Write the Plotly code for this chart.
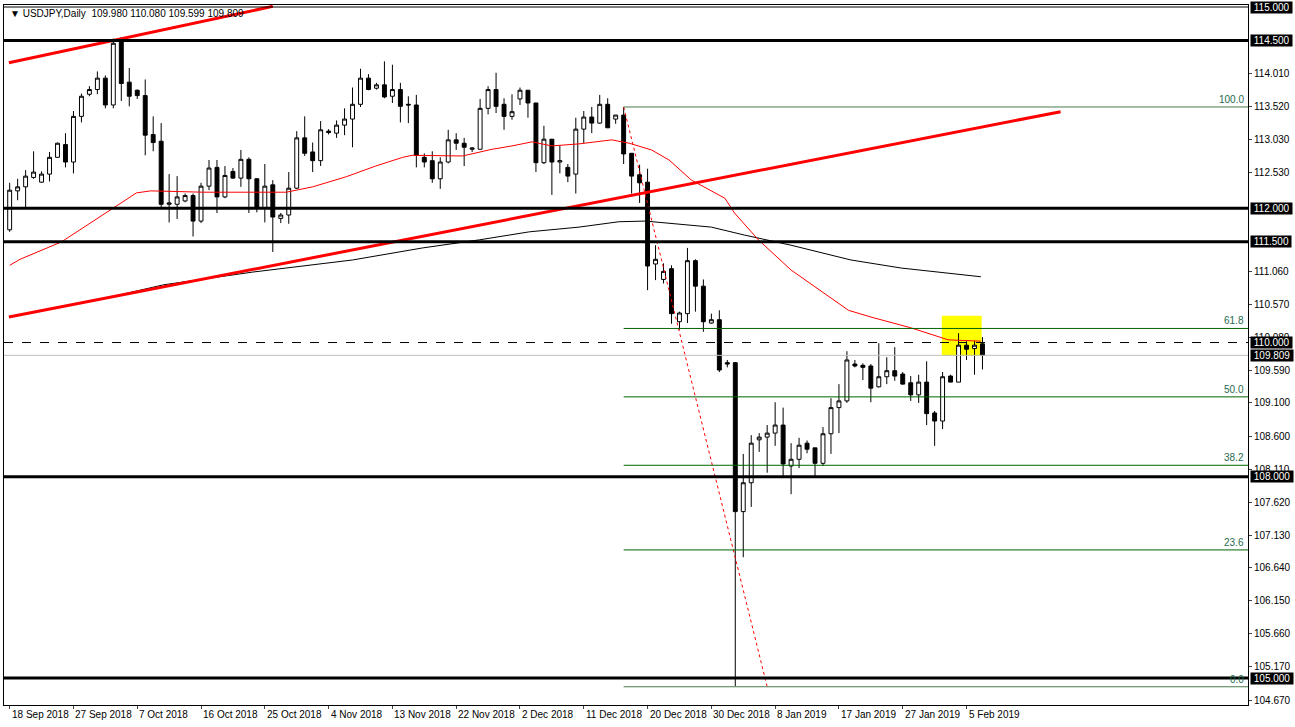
import plotly.graph_objects as go
import datetime as dt

# ---------------- data ----------------
opens = [111.68,112.26,112.32,112.46,112.39,112.51,112.76,112.95,112.69,113.37,
         113.70,113.77,113.94,113.54,114.50,113.88,113.76,113.68,113.10,113.00,
         112.06,112.06,112.11,112.19,111.81,112.33,112.61,112.17,112.55,112.45,
         112.73,112.44,112.00,112.35,111.85,111.90,112.30,113.05,112.84,112.71,
         113.15,113.12,113.24,113.33,113.55,113.94,113.79,113.84,113.67,113.77,
         113.55,113.54,112.76,112.71,112.44,112.69,113.02,112.97,112.88,112.88,
         113.49,113.77,113.55,113.37,113.63,113.76,113.57,112.68,113.03,112.69,
         112.61,112.51,113.18,113.36,113.27,113.55,113.33,113.39,112.82,112.50,
         112.39,111.17,110.94,111.10,110.31,110.43,111.22,110.84,110.29,110.34,
         109.70,109.70,107.48,107.91,108.55,108.59,108.65,108.77,108.16,108.26,
         108.50,108.43,108.20,108.64,109.03,109.13,109.68,109.66,109.65,109.34,
         109.49,109.58,109.53,109.40,109.22,109.41,108.95,108.83,109.50,109.41,
         109.96,109.91,109.980]
highs = [112.38,112.44,112.57,112.85,112.55,112.84,112.98,113.12,113.45,113.71,
         113.82,114.04,113.98,114.53,114.55,114.09,113.77,113.92,113.37,113.27,
         112.51,112.48,112.22,112.22,112.38,112.72,112.72,112.63,112.60,112.87,
         112.76,112.45,112.66,112.42,111.93,112.54,113.15,113.37,112.98,113.30,
         113.18,113.31,113.49,113.80,114.08,114.00,113.87,114.19,114.14,113.87,
         113.67,113.69,112.82,112.85,112.76,113.17,113.12,113.05,112.91,113.63,
         113.82,114.02,113.64,113.70,113.80,113.76,113.57,113.23,113.03,112.94,
         112.66,113.35,113.45,113.51,113.69,113.64,113.39,113.51,112.82,112.65,
         112.59,111.45,111.18,111.15,110.46,111.41,111.24,110.94,110.43,110.48,
         109.74,109.71,108.34,108.62,108.65,108.77,109.11,109.03,108.50,108.58,
         108.54,108.43,108.74,109.17,109.38,109.87,109.74,109.69,109.68,109.99,
         109.78,109.93,109.56,109.50,109.52,109.72,108.98,109.56,109.52,110.14,
         110.02,110.02,110.080]
lows = [111.65,112.12,112.00,112.44,112.38,112.40,112.75,112.61,112.52,113.28,
        113.67,113.70,113.49,113.49,113.60,113.52,113.63,112.79,112.85,112.02,
        111.79,111.84,112.09,111.58,111.78,112.27,111.93,112.15,112.44,112.32,
        111.93,111.94,111.79,111.35,111.78,111.77,112.29,112.78,112.54,112.63,
        113.10,113.05,113.09,112.91,113.51,113.76,113.77,113.64,113.57,113.28,
        113.27,112.61,112.61,112.38,112.29,112.67,112.87,112.63,112.84,112.88,
        113.40,113.42,113.17,113.32,113.54,113.35,112.54,112.66,112.20,112.52,
        112.39,112.22,112.97,113.12,113.26,113.20,113.26,112.66,112.22,112.08,
        110.78,110.93,110.88,110.28,110.19,110.29,110.46,110.16,110.28,109.56,
        109.63,104.88,106.80,107.55,108.37,108.06,108.46,107.98,107.74,108.13,
        108.35,108.00,108.16,108.34,108.65,109.10,109.63,109.44,109.11,109.33,
        109.38,109.43,109.37,109.13,109.10,108.77,108.46,108.71,109.41,109.41,
        109.74,109.52,109.599]
closes = [112.27,112.32,112.48,112.54,112.51,112.76,112.97,112.69,113.37,113.67,
          113.77,113.94,113.54,114.46,113.86,113.67,113.68,113.09,112.98,112.06,
          112.08,112.17,112.19,111.81,112.33,112.60,112.17,112.49,112.45,112.73,
          112.44,112.00,112.33,111.87,111.90,112.30,113.05,112.82,112.71,113.17,
          113.13,113.24,113.33,113.55,113.94,113.77,113.84,113.66,113.77,113.52,
          113.54,112.79,112.69,112.44,112.69,113.02,112.97,112.91,112.90,113.49,
          113.77,113.52,113.37,113.44,113.76,113.57,112.68,113.03,112.69,112.71,
          112.48,113.18,113.36,113.27,113.55,113.20,113.39,112.81,112.48,112.38,
          111.14,111.24,111.06,110.43,110.44,111.22,110.84,110.31,110.34,109.59,
          109.68,107.48,107.91,108.50,108.59,108.65,108.77,108.19,108.26,108.47,
          108.41,108.20,108.64,109.03,109.13,109.74,109.65,109.63,109.32,109.49,
          109.58,109.50,109.38,109.22,109.41,108.94,108.83,109.49,109.41,109.96,
          109.90,109.96,109.809]

start_date = dt.date(2018, 9, 18)

ma50_idx = [0,1.3,6.5,12.4,15.9,17.7,24.3,34.7,38,42.2,45.9,49.3,50.5,56.8,60.5,63,65.5,68,
            71.4,75.5,77.7,80.5,82.7,85.5,89.7,90.9,93.9,98,105.2,108,113,117.7,121.8]
ma50_val = [111.15,111.24,111.50,111.95,112.23,112.26,112.24,112.24,112.32,112.47,112.63,
            112.76,112.79,112.78,112.88,112.93,112.99,112.93,112.96,113.02,112.97,112.87,
            112.72,112.42,112.15,111.93,111.53,111.08,110.48,110.38,110.22,110.04,110.02]
ma200_idx = [10.5,19.3,30.5,43,51.8,58.9,65.2,71.4,76.4,79.7,88,92.2,98,105.5,111.8,121.8]
ma200_val = [110.62,110.86,111.05,111.23,111.41,111.53,111.65,111.72,111.80,111.81,111.72,
             111.60,111.45,111.23,111.11,110.98]

h_levels = [114.5, 112.0, 111.5, 108.0, 105.0]
trend1 = ([-0.1, 33], [114.17, 115.01])
trend2 = ([-0.1, 131.8], [110.38, 113.44])
fib_high, fib_low = 113.51, 104.87
fib_start = 77
fib_levels = [100.0, 61.8, 50.0, 38.2, 23.6, 0.0]
fib_diag = ([77, 95], [113.51, 104.87])
box_x = [116.9, 121.9]
box_y = [109.80, 110.40]
y_ticks = [114.010,113.520,113.030,112.530,111.060,110.570,110.080,109.590,109.100,108.600,
           108.110,107.620,107.130,106.640,106.150,105.660,105.170,104.670]
boxed_labels = [115.000,114.500,112.000,111.500,110.000,109.809,108.000,105.000]
header = "▼ USDJPY,Daily  109.980 110.080 109.599 109.809"

# ---------------- dates ----------------
dates = []
d = start_date
while len(dates) < len(opens):
    if d.weekday() != 5:
        dates.append(d)
    d += dt.timedelta(days=1)
idx = list(range(len(opens)))
label_idx = list(range(0, len(opens), 8))
labels = [f"{dates[i].day} {dates[i].strftime('%b %Y')}" for i in label_idx]

XR = [-0.71, 155.3]
YR = [104.598, 115.03]
F = "Liberation Sans"

fig = go.Figure()
fig.add_shape(type="rect", x0=box_x[0], x1=box_x[1], y0=box_y[0], y1=box_y[1],
              fillcolor="#ffff00", line_width=0, layer="below")
for lv in h_levels:
    fig.add_shape(type="line", xref="paper", x0=0, x1=1, y0=lv, y1=lv,
                  line=dict(color="black", width=3))
fig.add_shape(type="line", xref="paper", x0=0, x1=1, y0=115.0, y1=115.0, line=dict(color="black", width=1))
fig.add_shape(type="line", xref="paper", x0=0, x1=1, y0=110.0, y1=110.0,
              line=dict(color="black", width=1, dash="dash"))
fig.add_shape(type="line", xref="paper", x0=0, x1=1, y0=closes[-1], y1=closes[-1],
              line=dict(color="#c0c0c0", width=1))
for lv in fib_levels:
    p = fib_low + (fib_high - fib_low) * lv / 100
    fig.add_shape(type="line", x0=fib_start, x1=XR[1], y0=p, y1=p,
                  line=dict(color="#006400" if lv not in (100.0, 0.0) else "#4a7a4a", width=1))
    fig.add_annotation(xref="paper", x=0.998, y=p, text=f"{lv:.1f}", showarrow=False,
                       xanchor="right", yanchor="bottom", font=dict(family=F, size=10, color="#1f6b4f"))

fig.add_trace(go.Scatter(x=ma200_idx, y=ma200_val, mode="lines", line=dict(color="black", width=1), hoverinfo="skip"))
fig.add_trace(go.Scatter(x=ma50_idx, y=ma50_val, mode="lines", line=dict(color="red", width=1), hoverinfo="skip"))
fig.add_trace(go.Scatter(x=trend1[0], y=trend1[1], mode="lines", line=dict(color="red", width=3), hoverinfo="skip"))
fig.add_trace(go.Scatter(x=trend2[0], y=trend2[1], mode="lines", line=dict(color="red", width=3), hoverinfo="skip"))
fig.add_trace(go.Scatter(x=fib_diag[0], y=fib_diag[1], mode="lines", line=dict(color="red", width=1, dash="dot"), hoverinfo="skip"))

fig.add_trace(go.Candlestick(x=idx, open=opens, high=highs, low=lows, close=closes,
                             increasing=dict(fillcolor="white", line=dict(color="black", width=1)),
                             decreasing=dict(fillcolor="black", line=dict(color="black", width=1)),
                             whiskerwidth=0))

for v in boxed_labels:
    fig.add_annotation(xref="paper", x=1.0, y=v, xshift=2, text=f" {v:.3f} ", showarrow=False,
                       xanchor="left", bgcolor="black", font=dict(family=F, size=10, color="white"),
                       borderpad=0)
for i, t in zip(label_idx, labels):
    fig.add_annotation(x=i, y=0, yref="paper", yshift=-2, text=t, showarrow=False,
                       xanchor="left", yanchor="top", font=dict(family=F, size=10, color="black"))
fig.add_annotation(xref="paper", yref="paper", x=0.003, y=0.998, text=header, showarrow=False,
                   xanchor="left", yanchor="top", font=dict(family=F, size=10, color="black"))

fig.update_layout(width=1295, height=727, margin=dict(l=4, r=47, t=5, b=22, autoexpand=False),
                  paper_bgcolor="white", plot_bgcolor="white", showlegend=False,
                  xaxis=dict(range=XR, rangeslider=dict(visible=False), showgrid=False, zeroline=False,
                             tickvals=label_idx, ticktext=[""] * len(label_idx), ticks="outside", ticklen=3,
                             showline=True, linecolor="black", mirror=True),
                  yaxis=dict(range=YR, side="right", showgrid=False, zeroline=False,
                             tickvals=y_ticks, ticktext=[f"{v:.3f}" for v in y_ticks],
                             ticks="outside", ticklen=3, tickfont=dict(family=F, size=10, color="black"),
                             showline=True, linecolor="black", mirror=True))
fig.write_html("out.html", config={"displayModeBar": False},
               post_script="document.body.style.margin='0';document.body.style.overflow='hidden';")
